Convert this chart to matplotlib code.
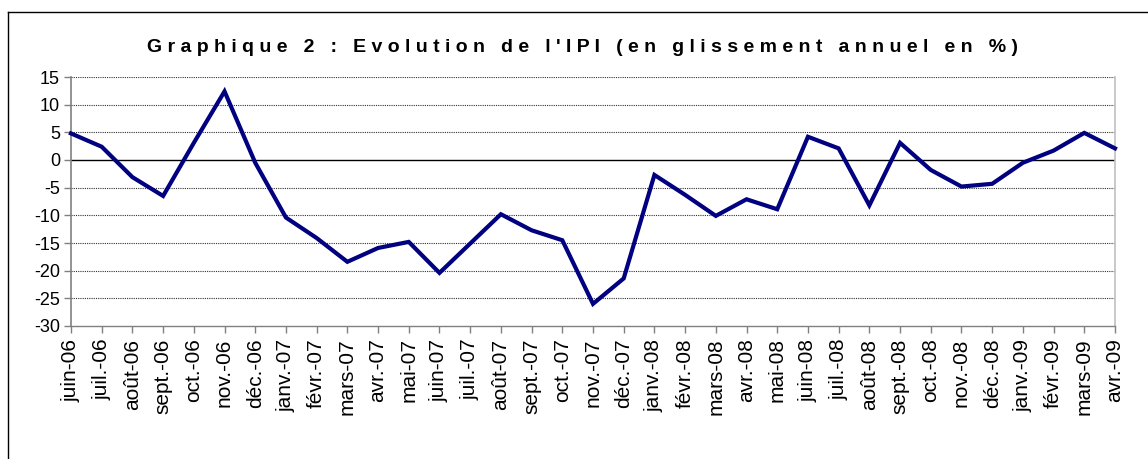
import matplotlib
matplotlib.use("Agg")
import matplotlib.pyplot as plt
from matplotlib.lines import Line2D

months = ["juin-06", "juil.-06", "août-06", "sept.-06", "oct.-06", "nov.-06", "déc.-06",
          "janv.-07", "févr.-07", "mars-07", "avr.-07", "mai-07", "juin-07", "juil.-07",
          "août-07", "sept.-07", "oct.-07", "nov.-07", "déc.-07", "janv.-08", "févr.-08",
          "mars-08", "avr.-08", "mai-08", "juin-08", "juil.-08", "août-08", "sept.-08",
          "oct.-08", "nov.-08", "déc.-08", "janv.-09", "févr.-09", "mars-09", "avr.-09"]
ipi = [4.8, 2.4, -3.1, -6.5, 3.1, 12.4, -0.5,
       -10.4, -14.1, -18.4, -15.9, -14.8, -20.4, -15.1,
       -9.8, -12.7, -14.5, -26.0, -21.4, -2.7, -6.3,
       -10.1, -7.1, -8.9, 4.2, 2.1, -8.2, 3.1,
       -1.8, -4.8, -4.3, -0.5, 1.7, 4.9, 2.1]
yticks = [15, 10, 5, 0, -5, -10, -15, -20, -25, -30]
title = "Graphique 2 : Evolution de l'IPI (en glissement annuel en %)"

plt.rcParams['font.family'] = ['Liberation Sans', 'DejaVu Sans']

W, H = 1148, 459
fig = plt.figure(figsize=(W / 100, H / 100), dpi=100)
fig.patch.set_facecolor('white')
ax = fig.add_axes([71 / W, 1 - 326 / H, (1115 - 71) / W, (326 - 77) / H])

x = list(range(len(months)))
ax.plot(x, ipi, color='#000080', lw=3.0, solid_joinstyle='miter', zorder=5, clip_on=False)

ax.set_xlim(0, len(months) - 1)
ax.set_ylim(-30, 15)
ax.set_yticks(yticks)
ax.set_yticklabels([str(v) for v in yticks], fontsize=13)
ax.set_xticks(x)
ax.set_xticklabels(months, rotation=90, fontsize=15)

for v in yticks:
    if v == 0:
        ax.axhline(v, color='black', lw=1.0, zorder=2)
    elif v != -30:
        ax.axhline(v, color='#303030', lw=0.8, ls=(0, (1, 1)), zorder=2)

ax.spines['top'].set_visible(False)
ax.spines['left'].set_color('#808080')
ax.spines['left'].set_linewidth(1.2)
ax.spines['right'].set_color('#c0c0c0')
ax.spines['right'].set_linewidth(1.2)
ax.spines['bottom'].set_color('#808080')
ax.spines['bottom'].set_linewidth(1.0)
ax.tick_params(axis='both', direction='out', length=5, width=1, color='#808080')
ax.tick_params(axis='y', pad=3)
ax.tick_params(axis='x', pad=4)

spaced = ""
for ch in title:
    if ch == " ":
        spaced += "  "
    else:
        spaced += ch + " "
spaced = spaced.strip()
fig.text(582 / W, 1 - 48 / H, spaced, ha='center', va='center', fontsize=14,
         fontweight='bold', color='black')

fig.add_artist(Line2D([8 / W, 8 / W], [-0.1, 1 - 12 / H], color='black', lw=1.0))
fig.add_artist(Line2D([8 / W, 1.1], [1 - 12 / H, 1 - 12 / H], color='black', lw=1.0))

fig.savefig("out.png", dpi=100, facecolor='white')
